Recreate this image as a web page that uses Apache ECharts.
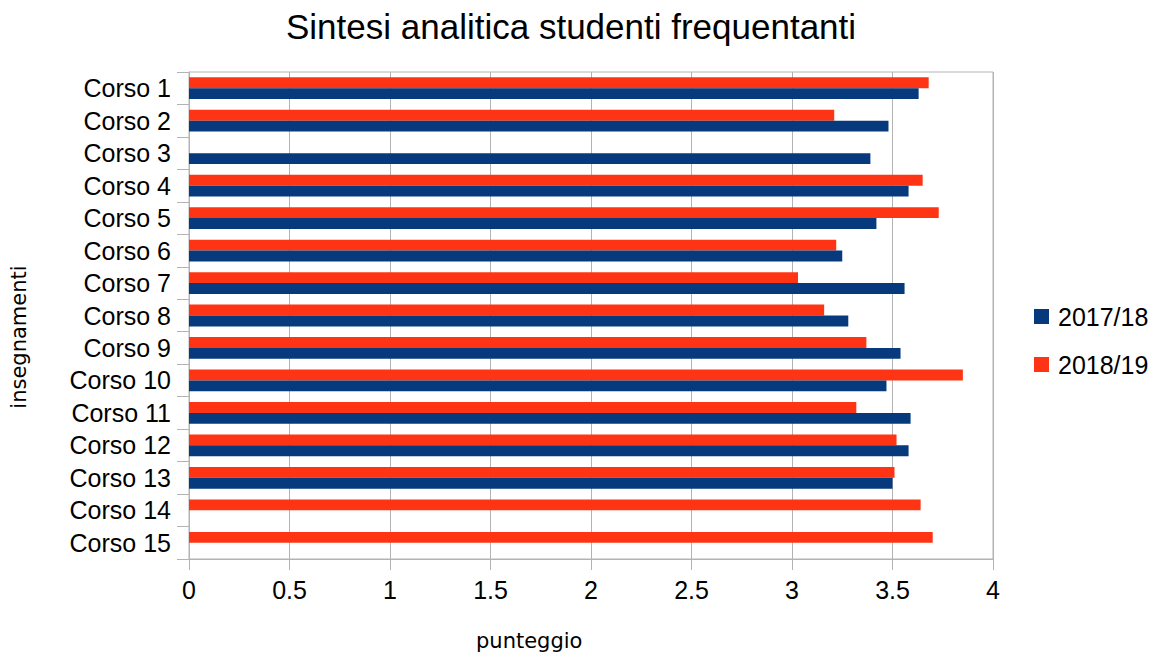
<!DOCTYPE html>
<html>
<head>
<meta charset="utf-8">
<script src="https://cdn.jsdelivr.net/npm/echarts@6/dist/echarts.min.js"></script>
<style>
html,body{margin:0;padding:0;background:#fff;}
#chart{width:1153px;height:658px;}
</style>
</head>
<body>
<div id="chart"></div>
<script>
const categories = ['Corso 1','Corso 2','Corso 3','Corso 4','Corso 5','Corso 6','Corso 7','Corso 8','Corso 9','Corso 10','Corso 11','Corso 12','Corso 13','Corso 14','Corso 15'];
const values2017 = [3.63, 3.48, 3.39, 3.58, 3.42, 3.25, 3.56, 3.28, 3.54, 3.47, 3.59, 3.58, 3.50, null, null];
const values2018 = [3.68, 3.21, null, 3.65, 3.73, 3.22, 3.03, 3.16, 3.37, 3.85, 3.32, 3.52, 3.51, 3.64, 3.70];
const seriesNames = ['2017/18', '2018/19'];
const xTicks = { min: 0, max: 4, interval: 0.5 };

const FONT = 'Liberation Sans';
const chart = echarts.init(document.getElementById('chart'), null, { renderer: 'svg' });
chart.setOption({
  animation: false,
  backgroundColor: '#ffffff',
  title: [{
    text: 'Sintesi analitica studenti frequentanti',
    left: 286, top: 9, padding: 0,
    textStyle: { fontFamily: FONT, fontSize: 35, fontWeight: 'normal', color: '#000' }
  }, {
    text: 'punteggio',
    left: 476, top: 630, padding: 0,
    textStyle: { fontFamily: 'DejaVu Sans', fontSize: 21, fontWeight: 'normal', color: '#000' }
  }],
  graphic: [{
    type: 'text', x: 19, y: 337, rotation: Math.PI / 2,
    style: { text: 'insegnamenti', fontFamily: 'DejaVu Sans', fontSize: 21, fill: '#000', align: 'center', verticalAlign: 'middle' }
  }],
  legend: {
    orient: 'vertical', left: 1034, top: 304, padding: 0,
    itemWidth: 15, itemHeight: 15, itemGap: 23, icon: 'rect',
    textStyle: { fontFamily: FONT, fontSize: 25, color: '#000', padding: [0, 0, 0, 4] },
    data: seriesNames
  },
  grid: {
    left: 189, right: 160, top: 72, bottom: 99,
    show: true, borderColor: '#b3b3b3', borderWidth: 1
  },
  xAxis: {
    type: 'value', min: xTicks.min, max: xTicks.max, interval: xTicks.interval,
    axisLine: { show: true, lineStyle: { color: '#b3b3b3' } },
    axisTick: { show: true, length: 11, lineStyle: { color: '#b3b3b3' } },
    splitLine: { show: true, lineStyle: { color: '#b3b3b3', width: 1 } },
    axisLabel: { margin: 18, fontFamily: FONT, fontSize: 25, color: '#000' }
  },
  yAxis: {
    type: 'category', data: categories, inverse: true,
    axisLine: { show: true, lineStyle: { color: '#b3b3b3' } },
    axisTick: { show: true, length: 12, interval: 0, lineStyle: { color: '#b3b3b3' } },
    axisLabel: { margin: 18, interval: 0, fontFamily: FONT, fontSize: 25, color: '#000' }
  },
  series: [{
    name: seriesNames[1], type: 'bar', data: values2018,
    itemStyle: { color: '#ff3414' },
    barGap: '0%', barCategoryGap: '33%'
  }, {
    name: seriesNames[0], type: 'bar', data: values2017,
    itemStyle: { color: '#063a7c' },
    barGap: '0%', barCategoryGap: '33%'
  }]
});
</script>
</body>
</html>
